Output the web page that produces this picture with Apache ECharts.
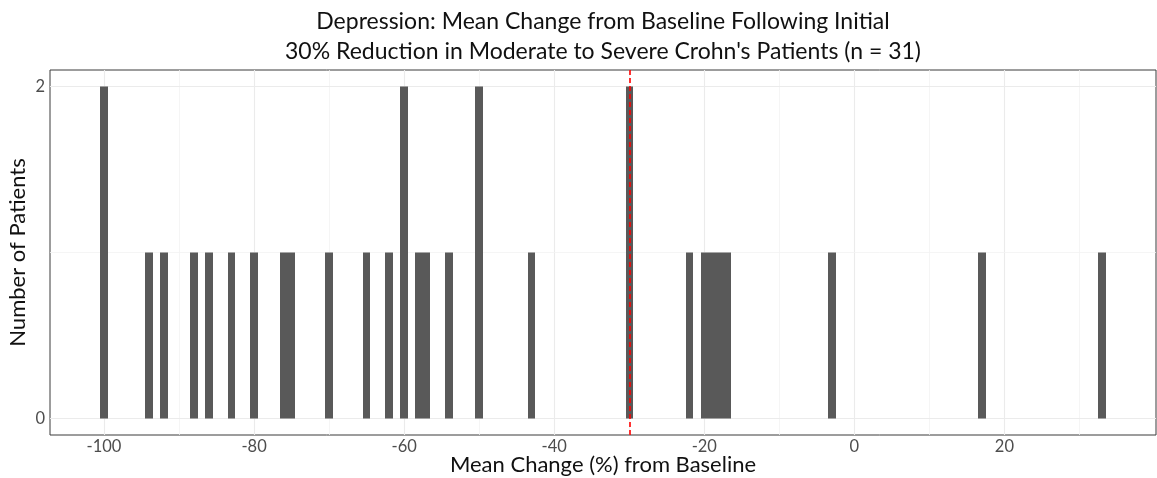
<!DOCTYPE html>
<html>
<head>
<meta charset="utf-8">
<script src="https://cdn.jsdelivr.net/npm/echarts@6/dist/echarts.min.js"></script>
<style>
html,body{margin:0;padding:0;background:#fff;}
#chart{width:1157px;height:478px;}
</style>
</head>
<body>
<div id="chart"></div>
<script>
// Histogram bins (bin width 1, centred on the value) and patient counts
const binCenters = [-100,-94,-92,-88,-86,-83,-80,-76,-75,-70,-65,-62,-60,-58,-57,-54,-50,-43,-30,-22,-20,-19,-18,-17,-3,17,33];
const counts     = [2,1,1,1,1,1,1,1,1,1,1,1,2,1,1,1,2,1,2,1,1,1,1,1,1,1,1];
const xTicks = [-100,-80,-60,-40,-20,0,20];
const xMinor = [-90,-70,-50,-30,-10,10,30];
const yTicks = [0,2];
const yMinor = [1];
const threshold = -30;
const titleText = "Depression: Mean Change from Baseline Following Initial\n30% Reduction in Moderate to Severe Crohn's Patients (n = 31)";
const xTitle = "Mean Change (%) from Baseline";
const yTitle = "Number of Patients";

const FONT = 'Lato';
const chart = echarts.init(document.getElementById('chart'), null, {renderer:'canvas'});

const histData = binCenters.map((x,i)=>[x, counts[i]]);

const gridLines = [];
xTicks.forEach(v=>gridLines.push({xAxis:v, lineStyle:{color:'#ebebeb', width:1.1, type:'solid'}}));
xMinor.forEach(v=>gridLines.push({xAxis:v, lineStyle:{color:'#f3f3f3', width:0.8, type:'solid'}}));
yTicks.forEach(v=>gridLines.push({yAxis:v, lineStyle:{color:'#ebebeb', width:1.1, type:'solid'}}));
yMinor.forEach(v=>gridLines.push({yAxis:v, lineStyle:{color:'#f3f3f3', width:0.8, type:'solid'}}));

chart.setOption({
  animation:false,
  backgroundColor:'#ffffff',
  title:{
    text:titleText,
    left:603, top:7, textAlign:'center', padding:0,
    textStyle:{fontFamily:FONT, fontSize:23, fontWeight:'normal', color:'#111111', lineHeight:30}
  },
  grid:{left:50, right:1, top:70, bottom:43, show:true, borderColor:'#3a3a3a', borderWidth:1,
        backgroundColor:'transparent', outerBoundsMode:'none', containLabel:false},
  xAxis:{
    type:'value', min:-107.2, max:40.2,
    name:xTitle, nameLocation:'middle', nameGap:19, nameMoveOverlap:false,
    nameTextStyle:{fontFamily:FONT, fontSize:22, color:'#111111'},
    axisLine:{show:false},
    axisTick:{show:true, length:4, customValues:xTicks, lineStyle:{color:'#333'}},
    axisLabel:{customValues:xTicks, margin:3, fontFamily:FONT, fontSize:16.5, color:'#4d4d4d'},
    splitLine:{show:false}
  },
  yAxis:{
    type:'value', min:-0.1, max:2.1,
    name:yTitle, nameLocation:'middle', nameGap:21, nameRotate:90, nameMoveOverlap:false,
    nameTextStyle:{fontFamily:FONT, fontSize:22, color:'#111111'},
    axisLine:{show:false},
    axisTick:{show:true, length:4, customValues:yTicks, lineStyle:{color:'#333'}},
    axisLabel:{customValues:yTicks, margin:5, fontFamily:FONT, fontSize:16.5, color:'#4d4d4d'},
    splitLine:{show:false}
  },
  series:[
    {
      type:'line', data:[], z:1, silent:true,
      markLine:{z:1, silent:true, symbol:['none','none'], label:{show:false}, animation:false, data:gridLines}
    },
    {
      type:'custom', z:2, data:histData,
      renderItem:function(params, api){
        const x = api.value(0), c = api.value(1);
        const p0 = api.coord([x-0.5, c]);
        const p1 = api.coord([x+0.5, 0]);
        const x0 = Math.round(p0[0]), x1 = Math.round(p1[0]);
        return {type:'rect', shape:{x:x0, y:p0[1], width:x1-x0, height:p1[1]-p0[1]},
          style:{fill:'#595959'}};
      }
    },
    {
      type:'line', data:[], z:3, silent:true,
      markLine:{z:6, silent:true, symbol:['none','none'], label:{show:false}, animation:false,
        data:[{xAxis:threshold, lineStyle:{color:'#ff0000', width:1.6, type:[5,3]}}]}
    }
  ]
});
</script>
</body>
</html>
